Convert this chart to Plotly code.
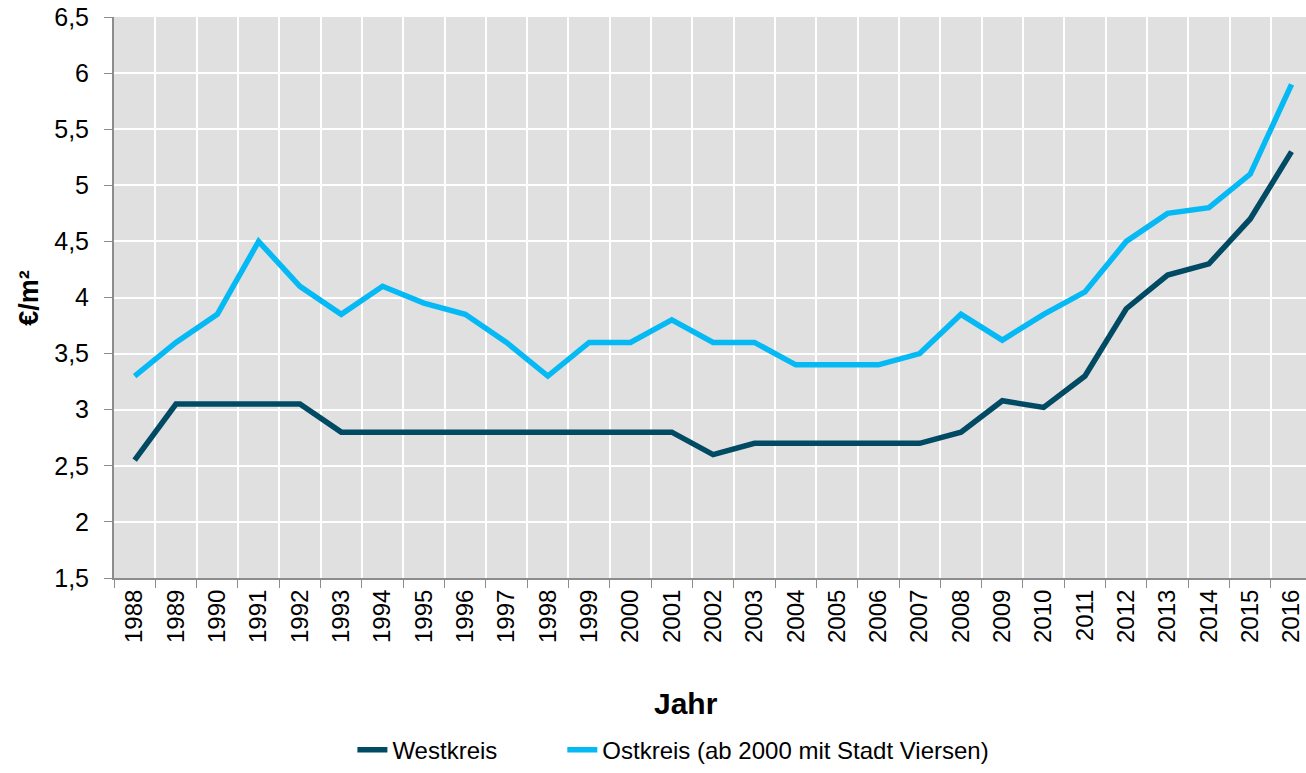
import plotly.graph_objects as go

YEARS = [str(y) for y in range(1988, 2017)]

WESTKREIS = [2.55, 3.05, 3.05, 3.05, 3.05, 2.8, 2.8, 2.8, 2.8, 2.8,
             2.8, 2.8, 2.8, 2.8, 2.6, 2.7, 2.7, 2.7, 2.7, 2.7,
             2.8, 3.08, 3.02, 3.3, 3.9, 4.2, 4.3, 4.7, 5.3]

OSTKREIS = [3.3, 3.6, 3.85, 4.5, 4.1, 3.85, 4.1, 3.95, 3.85, 3.6,
            3.3, 3.6, 3.6, 3.8, 3.6, 3.6, 3.4, 3.4, 3.4, 3.5,
            3.85, 3.62, 3.85, 4.05, 4.5, 4.75, 4.8, 5.1, 5.9]

Y_TICKS = [1.5, 2, 2.5, 3, 3.5, 4, 4.5, 5, 5.5, 6, 6.5]

FONT = "Liberation Sans, Arial, sans-serif"
AXIS_GREY = "#8c8c8c"
NBSP = "\u00a0"

fig = go.Figure()
# trailing non-breaking spaces widen the gap between the two legend entries
fig.add_trace(go.Scatter(x=YEARS, y=WESTKREIS, mode="lines", name="Westkreis" + NBSP * 9,
                         line=dict(color="#014a63", width=5.5)))
fig.add_trace(go.Scatter(x=YEARS, y=OSTKREIS, mode="lines",
                         name="Ostkreis (ab 2000 mit Stadt Viersen)",
                         line=dict(color="#05b9f5", width=5.5)))

fig.update_layout(
    width=1306, height=773,
    margin=dict(l=114, r=0, t=17, b=190),
    plot_bgcolor="#e0e0e0",
    paper_bgcolor="white",
    separators=", ",
    font=dict(family=FONT, size=24, color="black"),
    showlegend=True,
    legend=dict(orientation="h", x=0.2, xanchor="left", y=-0.307, yanchor="middle",
                font=dict(size=24), traceorder="normal",
                bgcolor="rgba(0,0,0,0)"),
    annotations=[
        dict(text="<b>Jahr</b>", x=0.48, y=-0.224, xref="paper", yref="paper",
             showarrow=False, font=dict(size=30), yanchor="middle"),
        dict(text="<b>€/m²</b>", x=-0.072, y=0.5, xref="paper", yref="paper",
             showarrow=False, font=dict(size=27), textangle=-90,
             xanchor="center", yanchor="middle"),
    ],
)

# category gridlines sit between the years, like the original
fig.update_xaxes(
    type="category", range=[-0.5, 28.35], tickson="boundaries",
    tickangle=-90, ticks="outside", ticklen=8, tickcolor=AXIS_GREY,
    showgrid=True, gridcolor="white", gridwidth=2,
    showline=True, linecolor=AXIS_GREY, linewidth=2,
    tickfont=dict(size=24),
)
fig.update_yaxes(
    range=[1.5, 6.5], tickvals=Y_TICKS, ticks="outside", ticklen=8,
    tickcolor=AXIS_GREY, showgrid=True, gridcolor="white", gridwidth=2,
    showline=True, linecolor=AXIS_GREY, linewidth=2, zeroline=False,
    tickfont=dict(size=25), ticklabelstandoff=10,
)

fig.write_html("out.html", config={"displayModeBar": False},
               post_script="document.body.style.margin='0';")
